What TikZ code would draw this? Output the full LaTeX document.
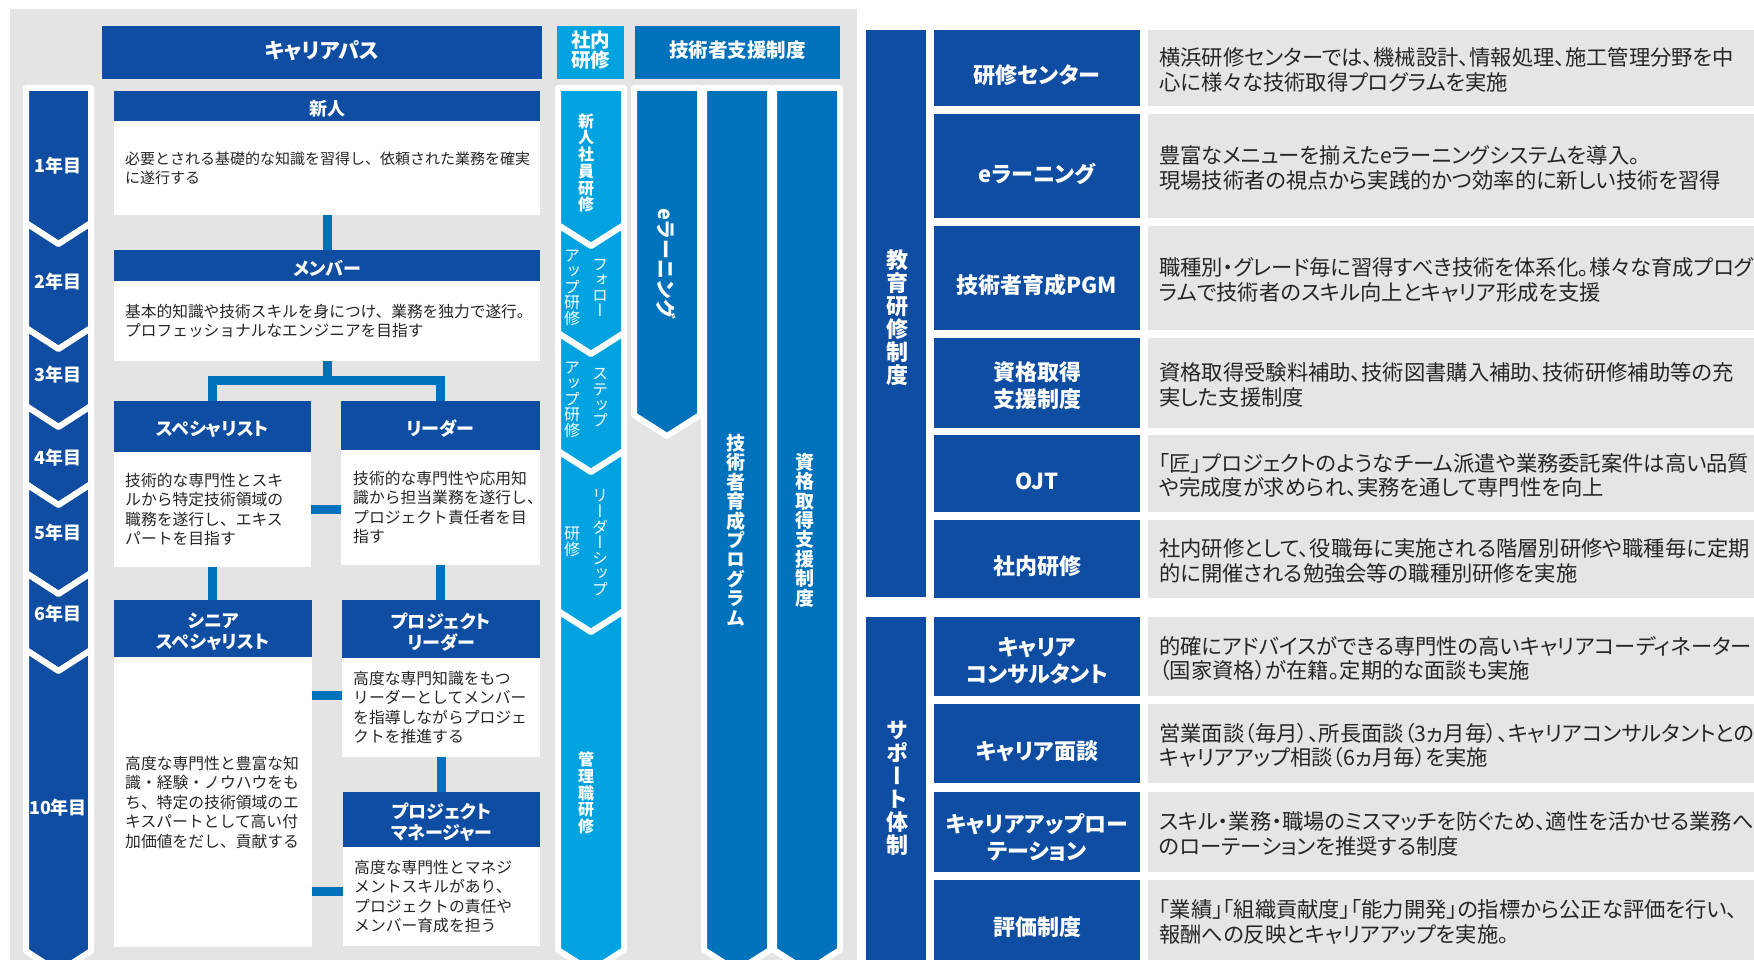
\documentclass[tikz,border=0pt]{standalone}
\usepackage{fontspec}
\setmainfont{Noto Sans CJK JP}
\newfontfamily\jpp{Noto Sans CJK JP}[RawFeature=+palt]
\newfontfamily\jpv{Noto Sans CJK JP}[RawFeature=+vert]
\definecolor{dblue}{HTML}{0E4DA2}
\definecolor{mblue}{HTML}{0072BC}
\definecolor{lblue}{HTML}{00A3E0}
\definecolor{bggray}{HTML}{E4E4E4}
\definecolor{rgray}{HTML}{E5E5E5}
\definecolor{txt}{HTML}{262626}
\tikzset{
  box/.style={inner sep=0pt, outer sep=0pt, anchor=north west, draw=none},
  coltxt/.style={text=white, align=center, inner sep=0pt},
  htxt/.style={text=white, align=center, inner sep=0pt, font=\jpp\bfseries\fontsize{18}{21}\selectfont},
  btxt/.style={text=txt, align=left, inner sep=0pt, anchor=west, font=\fontsize{15.8}{19.5}\selectfont},
  conn/.style={draw=mblue, line width=9pt, line join=miter},
  chev/.style={draw=white, line width=6pt, line join=round},
  yr/.style={text=white, inner sep=0pt, font=\bfseries\fontsize{18}{18}\selectfont},
  vst/.style={text=white, align=center, inner sep=0pt, font=\jpv\bfseries\fontsize{16}{16.7}\selectfont},
  vsn/.style={text=white, align=center, inner sep=0pt, font=\jpv\fontsize{16}{15.6}\selectfont},
  vst2/.style={text=white, align=center, inner sep=0pt, font=\jpv\bfseries\fontsize{19}{19.4}\selectfont},
  vlab/.style={text=white, align=center, inner sep=0pt, font=\jpv\bfseries\fontsize{22}{23}\selectfont},
  rlab/.style={text=white, align=center, inner sep=0pt, font=\jpp\bfseries\fontsize{22}{27}\selectfont},
  rtxt/.style={text=txt, align=left, inner sep=0pt, anchor=west, font=\jpp\fontsize{21.3}{24.5}\selectfont},
}
\newcommand{\chevflat}[5]{%
  \filldraw[chev, fill=#1] (#2,#4) -- (#3,#4) -- (#3,#5) -- ({(#2+#3)/2},{#5+21}) -- (#2,#5) -- cycle;}
\newcommand{\chevnotch}[5]{%
  \filldraw[chev, fill=#1] (#2,#4) -- ({(#2+#3)/2},{#4+21}) -- (#3,#4) -- (#3,#5) -- ({(#2+#3)/2},{#5+21}) -- (#2,#5) -- cycle;}
\newcommand{\myrow}[6]{%
  \node[box, fill=dblue, minimum width=206pt, minimum height=#3pt] (#1L) at (934,#2) {};
  \node[rlab] (#1Lt) at ([yshift=-#4pt]#1L.center) {#5};
  \node[box, fill=rgray, minimum width=606pt, minimum height=#3pt] (#1G) at (1148,#2) {};
  \node[rtxt] (#1Gt) at ([xshift=11pt,yshift=-2pt]#1G.west) {#6};}
\begin{document}
\begin{tikzpicture}[x=1pt,y=-1pt]
\useasboundingbox (0,0) rectangle (1754,960);
\fill[white] (0,0) rectangle (1754,960);
\fill[bggray] (10,9) rectangle (857,960);

% column headers
\node[box, fill=dblue, minimum width=440pt, minimum height=53pt] (cpH) at (102,26) {};
\node[coltxt, font=\jpp\bfseries\fontsize{21}{24}\selectfont] (cpT) at ([yshift=2pt]cpH.center) {キャリアパス};
\node[box, fill=lblue, minimum width=67pt, minimum height=53pt] (snH) at (557,26) {};
\node[coltxt, font=\bfseries\fontsize{19.5}{19.5}\selectfont] (snT) at ([yshift=2.5pt]snH.center) {社内\\研修};
\node[box, fill=mblue, minimum width=205pt, minimum height=53pt] (gsH) at (635,26) {};
\node[coltxt, font=\bfseries\fontsize{19.5}{22}\selectfont] (gsT) at ([yshift=2.5pt]gsH.center) {技術者支援制度};

% year chevrons
\chevflat{dblue}{26}{91}{88}{223}
\chevnotch{dblue}{26}{91}{223}{328}
\chevnotch{dblue}{26}{91}{328}{406}
\chevnotch{dblue}{26}{91}{406}{484}
\chevnotch{dblue}{26}{91}{484}{573}
\chevnotch{dblue}{26}{91}{573}{650}
\chevnotch{dblue}{26}{91}{650}{951}
\node[yr] (y1) at (58,166) {1年目};
\node[yr] (y2) at (58,282) {2年目};
\node[yr] (y3) at (58,375) {3年目};
\node[yr] (y4) at (58,458) {4年目};
\node[yr] (y5) at (58,533) {5年目};
\node[yr] (y6) at (58,614) {6年目};
\node[yr] (y10) at (58,808) {10年目};

% in-house training chevrons
\chevflat{lblue}{558}{624}{88}{225}
\chevnotch{lblue}{558}{624}{225}{333}
\chevnotch{lblue}{558}{624}{333}{451}
\chevnotch{lblue}{558}{624}{451}{611}
\chevnotch{lblue}{558}{624}{611}{950}
\node[vst] (v1) at (586,163) {新\\人\\社\\員\\研\\修};
\node[vsn] (v2a) at (600,288) {フ\\ォ\\ロ\\ー};
\node[vsn] (v2b) at (572,288) {ア\\ッ\\プ\\研\\修};
\node[vsn] (v3a) at (600,398) {ス\\テ\\ッ\\プ};
\node[vsn] (v3b) at (572,400) {ア\\ッ\\プ\\研\\修};
\node[vsn] (v4a) at (600,543) {リ\\ー\\ダ\\ー\\シ\\ッ\\プ};
\node[vsn] (v4b) at (572,542) {研\\修};
\node[vst] (v5) at (586,793) {管\\理\\職\\研\\修};

% support columns
\chevflat{mblue}{634}{700}{88}{415}
\chevflat{mblue}{704}{770}{88}{950}
\chevflat{mblue}{774}{840}{88}{950}
\node[text=white, inner sep=0pt, rotate=-90, font=\bfseries\fontsize{20}{20}\selectfont] (v6) at (666,264) {eラーニング};
\node[vst2] (v7) at (736,530) {技\\術\\者\\育\\成\\プ\\ロ\\グ\\ラ\\ム};
\node[vst2] (v8) at (805,530) {資\\格\\取\\得\\支\\援\\制\\度};

% career boxes
\node[box, fill=dblue, minimum width=426pt, minimum height=30pt] (shinH) at (114,91) {};
\node[htxt] (shinHt) at ([yshift=-3pt]shinH.center) {新人};
\node[box, fill=white, minimum width=426pt, minimum height=94pt] (shinB) at (114,121) {};
\node[btxt, font=\fontsize{15}{19}\selectfont] (shinBt) at ([xshift=11pt]shinB.west) {必要とされる基礎的な知識を習得し、依頼された業務を確実\\に遂行する};

\node[box, fill=dblue, minimum width=426pt, minimum height=31pt] (memH) at (114,250) {};
\node[htxt] (memHt) at ([yshift=-3pt]memH.center) {メンバー};
\node[box, fill=white, minimum width=426pt, minimum height=80pt] (memB) at (114,281) {};
\node[btxt, font=\fontsize{15.7}{18.5}\selectfont] (memBt) at ([xshift=11pt]memB.west) {基本的知識や技術スキルを身につけ、業務を独力で遂行。\\プロフェッショナルなエンジニアを目指す};

\node[box, fill=dblue, minimum width=197pt, minimum height=51pt] (spH) at (114,401) {};
\node[htxt] (spHt) at ([yshift=-3pt]spH.center) {スペシャリスト};
\node[box, fill=white, minimum width=197pt, minimum height=115pt] (spB) at (114,452) {};
\node[btxt] (spBt) at ([xshift=11pt]spB.west) {技術的な専門性とスキ\\ルから特定技術領域の\\職務を遂行し、エキス\\パートを目指す};

\node[box, fill=dblue, minimum width=199pt, minimum height=49pt] (ldH) at (341,401) {};
\node[htxt] (ldHt) at ([yshift=-3pt]ldH.center) {リーダー};
\node[box, fill=white, minimum width=199pt, minimum height=115pt] (ldB) at (341,450) {};
\node[btxt] (ldBt) at ([xshift=12pt]ldB.west) {技術的な専門性や応用知\\識から担当業務を遂行し、\\プロジェクト責任者を目\\指す};

\node[box, fill=dblue, minimum width=198pt, minimum height=57pt] (snrH) at (114,600) {};
\node[htxt] (snrHt) at ([yshift=-3pt]snrH.center) {シニア\\スペシャリスト};
\node[box, fill=white, minimum width=198pt, minimum height=290pt] (snrB) at (114,657) {};
\node[btxt] (snrBt) at ([xshift=11pt]snrB.west) {高度な専門性と豊富な知\\識・経験・ノウハウをも\\ち、特定の技術領域のエ\\キスパートとして高い付\\加価値をだし、貢献する};

\node[box, fill=dblue, minimum width=198pt, minimum height=58pt] (plH) at (342,600) {};
\node[htxt] (plHt) at ([yshift=-3pt]plH.center) {プロジェクト\\リーダー};
\node[box, fill=white, minimum width=198pt, minimum height=99pt] (plB) at (342,658) {};
\node[btxt] (plBt) at ([xshift=11pt]plB.west) {高度な専門知識をもつ\\リーダーとしてメンバー\\を指導しながらプロジェ\\クトを推進する};

\node[box, fill=dblue, minimum width=197pt, minimum height=55pt] (pmH) at (343,792) {};
\node[htxt] (pmHt) at ([yshift=-3pt]pmH.center) {プロジェクト\\マネージャー};
\node[box, fill=white, minimum width=197pt, minimum height=99pt] (pmB) at (343,847) {};
\node[btxt] (pmBt) at ([xshift=11pt]pmB.west) {高度な専門性とマネジ\\メントスキルがあり、\\プロジェクトの責任や\\メンバー育成を担う};

% connectors
\coordinate (bar) at (327,380.5);
\coordinate (c695) at (0,695);
\coordinate (c891) at (0,891);
\draw[conn] (shinB.south) -- (memH.north);
\draw[conn] (memB.south) -- (bar);
\draw[conn] (spH.north) -- (spH.north |- bar) -- (ldH.north |- bar) -- (ldH.north);
\draw[conn] (spB.east) -- (ldB.west |- spB.east);
\draw[conn] (spB.south) -- (spB.south |- snrH.north);
\draw[conn] (ldB.south) -- (ldB.south |- plH.north);
\draw[conn] (snrB.east |- c695) -- (plB.west |- c695);
\draw[conn] (plB.south) -- (plB.south |- pmH.north);
\draw[conn] (snrB.east |- c891) -- (pmB.west |- c891);

% right side
\node[box, fill=dblue, minimum width=60pt, minimum height=567pt] (edu) at (866,30) {};
\node[vlab] (eduT) at (897,318) {教\\育\\研\\修\\制\\度};
\node[box, fill=dblue, minimum width=60pt, minimum height=343pt] (sup) at (866,617) {};
\node[vlab] (supT) at (897,788) {サ\\ポ\\ー\\ト\\体\\制};

\myrow{ra}{30}{76}{7.5}{研修センター}{横浜研修センターでは、機械設計、情報処理、施工管理分野を中\\心に様々な技術取得プログラムを実施}
\myrow{rb}{114}{104}{7.5}{eラーニング}{豊富なメニューを揃えたeラーニングシステムを導入。\\現場技術者の視点から実践的かつ効率的に新しい技術を習得}
\myrow{rc}{226}{104}{7.5}{技術者育成PGM}{職種別・グレード毎に習得すべき技術を体系化。様々な育成プログ\\ラムで技術者のスキル向上とキャリア形成を支援}
\myrow{rd}{338}{90}{3}{資格取得\\支援制度}{資格取得受験料補助、技術図書購入補助、技術研修補助等の充\\実した支援制度}
\myrow{re}{435}{77}{7.5}{OJT}{「匠」プロジェクトのようなチーム派遣や業務委託案件は高い品質\\や完成度が求められ、実務を通して専門性を向上}
\myrow{rf}{520}{78}{7.5}{社内研修}{社内研修として、役職毎に実施される階層別研修や職種毎に定期\\的に開催される勉強会等の職種別研修を実施}
\myrow{sa}{617}{79}{4}{キャリア\\コンサルタント}{的確にアドバイスができる専門性の高いキャリアコーディネーター\\（国家資格）が在籍。定期的な面談も実施}
\myrow{sb}{704}{79}{7.5}{キャリア面談}{営業面談（毎月）、所長面談（3ヵ月毎）、キャリアコンサルタントとの\\キャリアアップ相談（6ヵ月毎）を実施}
\myrow{sc}{792}{80}{5}{キャリアアップロー\\テーション}{スキル・業務・職場のミスマッチを防ぐため、適性を活かせる業務へ\\のローテーションを推奨する制度}
\myrow{sd}{880}{80}{7.5}{評価制度}{「業績」「組織貢献度」「能力開発」の指標から公正な評価を行い、\\報酬への反映とキャリアアップを実施。}
\end{tikzpicture}
\end{document}
